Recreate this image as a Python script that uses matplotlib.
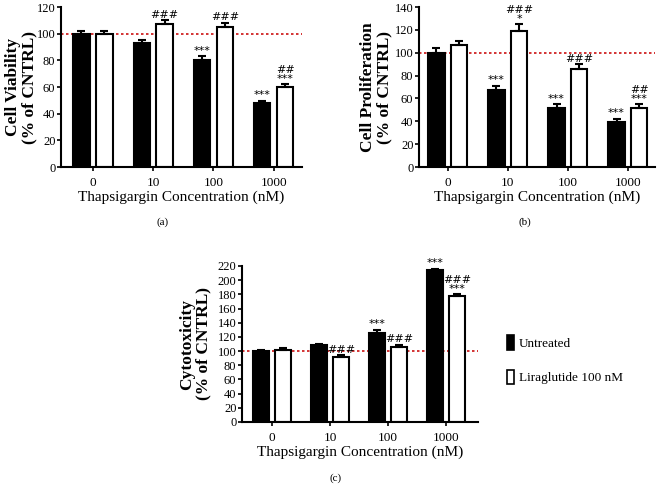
import matplotlib.pyplot as plt
from matplotlib.patches import Patch

plt.rcParams['font.family'] = ['Liberation Serif', 'DejaVu Serif']

concs = ['0', '10', '100', '1000']

# (a) cell viability
via_unt = [100, 93, 80, 48]
via_unt_err = [2, 2.5, 3, 1.5]
via_lir = [100, 107, 105, 60]
via_lir_err = [2, 3, 3, 2]
via_unt_sig = ['', '', '***', '***']
via_lir_sig = ['', '###', '###', '##\n***']

# (b) cell proliferation
pro_unt = [100, 67, 52, 39]
pro_unt_err = [4, 4, 3, 3]
pro_lir = [107, 119, 86, 52]
pro_lir_err = [3.5, 6, 4, 3]
pro_unt_sig = ['', '***', '***', '***']
pro_lir_sig = ['', '###\n*', '###', '##\n***']

# (c) cytotoxicity
cyt_unt = [100, 108, 126, 214]
cyt_unt_err = [1, 1.5, 4, 2]
cyt_lir = [102, 92, 106, 177]
cyt_lir_err = [3, 2, 3, 3]
cyt_unt_sig = ['', '', '***', '***']
cyt_lir_sig = ['', '###', '###', '###\n***']

fig = plt.figure(figsize=(6.6, 4.87), dpi=100)

W = 660.0
H = 487.0


def panel(rect, unt, unt_err, lir, lir_err, unt_sig, lir_sig, ymax, ystep, ylabel, xlim, label_x):
    l, t, r, b = rect
    ax = fig.add_axes([l / W, 1 - b / H, (r - l) / W, (b - t) / H])
    x = list(range(len(concs)))
    off = 0.19
    w = 0.27
    xb = [i - off for i in x]
    xw = [i + off for i in x]
    ax.bar(xb, unt, w, color='black', edgecolor='black', linewidth=1.5, zorder=2)
    ax.bar(xw, lir, w, color='white', edgecolor='black', linewidth=1.5, zorder=2)
    ax.errorbar(xb, unt, yerr=[[0] * 4, unt_err], fmt='none', ecolor='black',
                elinewidth=1.5, capsize=3, capthick=1.5, zorder=3)
    ax.errorbar(xw, lir, yerr=[[0] * 4, lir_err], fmt='none', ecolor='black',
                elinewidth=1.5, capsize=3, capthick=1.5, zorder=3)
    pad = ymax * 0.004
    for i in x:
        if unt_sig[i]:
            ax.text(xb[i], unt[i] + unt_err[i] + pad, unt_sig[i], ha='center', va='bottom',
                    fontsize=8, linespacing=0.8, family='DejaVu Sans', zorder=4)
        if lir_sig[i]:
            ax.text(xw[i], lir[i] + lir_err[i] + pad, lir_sig[i], ha='center', va='bottom',
                    fontsize=8, linespacing=0.8, family='DejaVu Sans', zorder=4)
    ax.axhline(100, color='#cc1111', linestyle=(0, (1.5, 1.5)), linewidth=1.2, zorder=1)
    ax.set_ylim(0, ymax)
    ax.set_xlim(*xlim)
    ax.set_yticks(range(0, ymax + 1, ystep))
    ax.set_xticks(x)
    ax.set_xticklabels(concs)
    ax.spines['top'].set_visible(False)
    ax.spines['right'].set_visible(False)
    ax.spines['left'].set_linewidth(1.5)
    ax.spines['bottom'].set_linewidth(1.5)
    ax.tick_params(axis='both', labelsize=9, width=1.2, length=3, pad=1)
    ax.tick_params(axis='x', pad=4, labelsize=9.5)
    ax.set_ylabel(ylabel, fontsize=12.5, fontweight='bold', linespacing=1.0)
    ax.yaxis.set_label_coords((label_x - l) / (r - l), 0.5)
    ax.set_xlabel('Thapsigargin Concentration (nM)', fontsize=11, labelpad=1)
    return ax


panel((61, 7, 302, 167), via_unt, via_unt_err, via_lir, via_lir_err, via_unt_sig, via_lir_sig,
      120, 20, 'Cell Viability\n(% of CNTRL)', (-0.53, 3.47), 37)
panel((419, 7, 655, 167), pro_unt, pro_unt_err, pro_lir, pro_lir_err, pro_unt_sig, pro_lir_sig,
      140, 20, 'Cell Proliferation\n(% of CNTRL)', (-0.48, 3.45), 392)
panel((242, 266, 478, 422), cyt_unt, cyt_unt_err, cyt_lir, cyt_lir_err, cyt_unt_sig, cyt_lir_sig,
      220, 20, 'Cytotoxicity\n(% of CNTRL)', (-0.52, 3.55), 211)

fig.text(163 / W, 1 - 222 / H, '(a)', ha='center', va='center', fontsize=8)
fig.text(525 / W, 1 - 222 / H, '(b)', ha='center', va='center', fontsize=8)
fig.text(336 / W, 1 - 478 / H, '(c)', ha='center', va='center', fontsize=8)

handles = [Patch(facecolor='black', edgecolor='black', linewidth=1.2, label='Untreated'),
           Patch(facecolor='white', edgecolor='black', linewidth=1.2, label='Liraglutide 100 nM')]
fig.legend(handles=handles, loc='upper left', bbox_to_anchor=(502 / W, 1 - 330 / H),
           frameon=False, fontsize=9.5, handlelength=0.5, handleheight=1.3,
           handletextpad=0.4, labelspacing=1.5, borderaxespad=0)

fig.savefig('out.png', dpi=100)
